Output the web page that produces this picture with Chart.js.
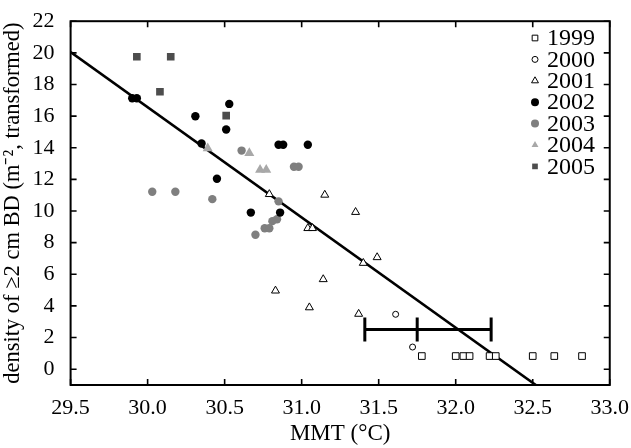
<!DOCTYPE html>
<html>
<head>
<meta charset="utf-8">
<script src="https://cdn.jsdelivr.net/npm/chart.js@4.4.1/dist/chart.umd.min.js"></script>
<style>
  html, body { margin: 0; padding: 0; background: #fff; }
  #wrap { width: 631px; height: 448px; }
</style>
</head>
<body>
<div id="wrap"><canvas id="chart" width="631" height="448"></canvas></div>
<script>
// values: MMT (°C) vs density of >=2 cm BD
const mmt1999 = [31.78, 32.00, 32.05, 32.09, 32.22, 32.26, 32.50, 32.64, 32.82];
const bd1999  = [0.83, 0.83, 0.83, 0.83, 0.83, 0.83, 0.83, 0.83, 0.83];

const mmt2000 = [31.61, 31.72];
const bd2000  = [3.47, 1.40];

const mmt2001 = [30.79, 31.15, 31.35, 31.04, 31.07, 31.49, 31.40, 30.83, 31.14, 31.05, 31.37];
const bd2001  = [11.06, 11.02, 9.93, 8.91, 8.91, 7.07, 6.71, 4.96, 5.68, 3.90, 3.49];

const mmt2002 = [29.90, 29.93, 30.53, 30.31, 30.51, 30.35, 30.85, 30.88, 31.04, 30.45, 30.67, 30.86];
const bd2002  = [17.13, 17.13, 16.77, 15.99, 15.15, 14.27, 14.19, 14.19, 14.19, 12.04, 9.90, 9.90];

const mmt2003 = [30.61, 30.03, 30.18, 30.42, 30.95, 30.98, 30.85, 30.81, 30.84, 30.76, 30.79, 30.70];
const bd2003  = [13.82, 11.22, 11.22, 10.75, 12.80, 12.80, 10.61, 9.36, 9.48, 8.91, 8.91, 8.50];

const mmt2004 = [30.39, 30.66, 30.73, 30.77];
const bd2004  = [13.96, 13.66, 12.60, 12.60];

const mmt2005 = [29.93, 30.15, 30.08, 30.51];
const bd2005  = [19.75, 19.75, 17.54, 16.03];

// regression line end points
const fitMMT = [29.5, 32.52];
const fitBD  = [20.05, -1.0];

// horizontal error bar: lower, centre, upper MMT, at one density level
const errBarMMT = [31.41, 31.75, 32.23];
const errBarBD = 2.51;

const xTicks = [29.5, 30.0, 30.5, 31.0, 31.5, 32.0, 32.5, 33.0];
const yTicks = [0, 2, 4, 6, 8, 10, 12, 14, 16, 18, 20, 22];

const FONT = "'Liberation Serif', 'Times New Roman', serif";

function toPoints(xs, ys) {
    return xs.map((v, i) => ({ x: v, y: ys[i] }));
}

const series = [
    { label: '1999', xs: mmt1999, ys: bd1999, style: 'rect',     r: 4.7, fill: '#ffffff', stroke: '#000000', bw: 1 },
    { label: '2000', xs: mmt2000, ys: bd2000, style: 'circle',   r: 3.0, fill: '#ffffff', stroke: '#000000', bw: 1 },
    { label: '2001', xs: mmt2001, ys: bd2001, style: 'triangle', r: 4.6, fill: '#ffffff', stroke: '#000000', bw: 1 },
    { label: '2002', xs: mmt2002, ys: bd2002, style: 'circle',   r: 4.2, fill: '#000000', stroke: '#000000', bw: 0 },
    { label: '2003', xs: mmt2003, ys: bd2003, style: 'circle',   r: 4.2, fill: '#7f7f7f', stroke: '#7f7f7f', bw: 0 },
    { label: '2004', xs: mmt2004, ys: bd2004, style: 'triangle', r: 5.8, fill: '#a8a8a8', stroke: '#a8a8a8', bw: 0 },
    { label: '2005', xs: mmt2005, ys: bd2005, style: 'rect',     r: 5.4, fill: '#4d4d4d', stroke: '#4d4d4d', bw: 0 }
];

const datasets = series.map(s => ({
    label: s.label,
    data: toPoints(s.xs, s.ys),
    pointStyle: s.style,
    pointRadius: s.r,
    pointHoverRadius: s.r,
    backgroundColor: s.fill,
    borderColor: s.stroke,
    borderWidth: s.bw
}));

datasets.push({
    label: 'fit',
    data: toPoints(fitMMT, fitBD),
    showLine: true,
    pointRadius: 0,
    borderColor: '#000000',
    borderWidth: 2.6,
    fill: false
});

// box round the plot with inward ticks on all four sides
const framePlugin = {
    id: 'frame',
    afterDraw(chart) {
        const { ctx, chartArea: a, scales: { x, y } } = chart;
        ctx.save();
        ctx.strokeStyle = '#000';
        ctx.lineWidth = 2;
        ctx.strokeRect(a.left, a.top, a.right - a.left, a.bottom - a.top);
        ctx.lineWidth = 1.6;
        ctx.beginPath();
        xTicks.forEach(v => {
            const px = x.getPixelForValue(v);
            ctx.moveTo(px, a.bottom); ctx.lineTo(px, a.bottom - 6);
            ctx.moveTo(px, a.top); ctx.lineTo(px, a.top + 6);
        });
        yTicks.forEach(v => {
            const py = y.getPixelForValue(v);
            ctx.moveTo(a.left, py); ctx.lineTo(a.left + 6, py);
            ctx.moveTo(a.right, py); ctx.lineTo(a.right - 6, py);
        });
        ctx.stroke();
        ctx.restore();
    }
};

const errorBarPlugin = {
    id: 'errorBar',
    afterDatasetsDraw(chart) {
        const { ctx, scales: { x, y } } = chart;
        const py = y.getPixelForValue(errBarBD);
        ctx.save();
        ctx.strokeStyle = '#000';
        ctx.lineWidth = 3;
        ctx.beginPath();
        ctx.moveTo(x.getPixelForValue(errBarMMT[0]), py);
        ctx.lineTo(x.getPixelForValue(errBarMMT[2]), py);
        errBarMMT.forEach(v => {
            const px = x.getPixelForValue(v);
            ctx.moveTo(px, py - 12);
            ctx.lineTo(px, py + 12);
        });
        ctx.stroke();
        ctx.restore();
    }
};

// legend drawn inside the plot, top right
const legendPlugin = {
    id: 'yearLegend',
    afterDatasetsDraw(chart) {
        const { ctx } = chart;
        ctx.save();
        ctx.font = '24px ' + FONT;
        ctx.textBaseline = 'middle';
        ctx.textAlign = 'left';
        series.forEach((s, i) => {
            const cy = 38 + i * 21.4;
            ctx.fillStyle = s.fill;
            ctx.strokeStyle = s.stroke;
            ctx.lineWidth = s.bw;
            Chart.helpers.drawPoint(ctx, {
                pointStyle: s.style,
                radius: Math.min(s.r, 4.0),
                rotation: 0,
                borderWidth: s.bw
            }, 535, cy);
            ctx.fillStyle = '#000';
            ctx.fillText(s.label, 547, cy + 1);
        });
        ctx.restore();
    }
};

new Chart(document.getElementById('chart'), {
    type: 'scatter',
    data: { datasets: datasets },
    plugins: [errorBarPlugin, legendPlugin, framePlugin],
    options: {
        responsive: false,
        animation: false,
        layout: { padding: { top: 10, right: 21, left: 0, bottom: 0 } },
        plugins: {
            legend: { display: false },
            tooltip: { enabled: false }
        },
        scales: {
            x: {
                type: 'linear',
                min: 29.5,
                max: 33.0,
                grid: { display: false },
                border: { display: false },
                afterBuildTicks: scale => { scale.ticks = xTicks.map(v => ({ value: v })); },
                afterFit: scale => { scale.height = 63; },
                ticks: {
                    color: '#000',
                    padding: 2,
                    maxRotation: 0,
                    font: { family: FONT, size: 22 },
                    callback: v => Number(v).toFixed(1)
                },
                title: {
                    display: true,
                    text: 'MMT (°C)',
                    color: '#000',
                    font: { family: FONT, size: 23 },
                    padding: { top: 0, bottom: 0 }
                }
            },
            y: {
                type: 'linear',
                min: -1,
                max: 22,
                grid: { display: false },
                border: { display: false },
                afterBuildTicks: scale => { scale.ticks = yTicks.map(v => ({ value: v })); },
                afterFit: scale => { scale.width = 70.6; },
                ticks: {
                    color: '#000',
                    padding: 8,
                    font: { family: FONT, size: 22 }
                },
                title: {
                    display: true,
                    text: 'density of \u22652 cm BD (m\u207B\u00B2, transformed)',
                    color: '#000',
                    font: { family: FONT, size: 22.5 },
                    padding: { top: 0, bottom: 0 }
                }
            }
        }
    }
});
</script>
</body>
</html>
